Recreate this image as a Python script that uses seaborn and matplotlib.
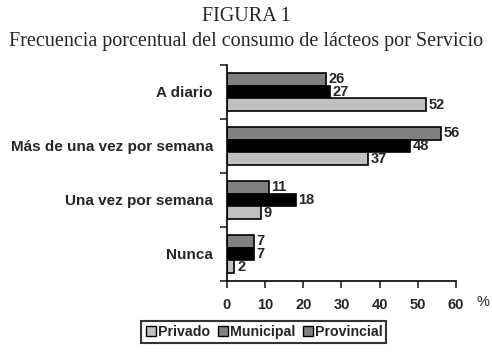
import seaborn as sns
import matplotlib.pyplot as plt
import pandas as pd
from matplotlib.lines import Line2D

categories = ['A diario', 'Más de una vez por semana', 'Una vez por semana', 'Nunca']
privado = [52, 37, 9, 2]
municipal = [27, 48, 18, 7]
provincial = [26, 56, 11, 7]
x_ticks = [0, 10, 20, 30, 40, 50, 60]

df = pd.DataFrame({
    'cat': categories * 3,
    'valor': provincial + municipal + privado,
    'serie': ['Provincial'] * 4 + ['Municipal'] * 4 + ['Privado'] * 4,
})

sns.set_style('white')
plt.rcParams['font.family'] = ['Liberation Sans', 'DejaVu Sans']

colors = {'Provincial': '#808080', 'Municipal': '#000000', 'Privado': '#c0c0c0'}

fig = plt.figure(figsize=(4.92, 3.57), dpi=100)
ax = fig.add_axes([0.461, 0.213, 0.466, 0.605])

sns.barplot(data=df, y='cat', x='valor', hue='serie', order=categories,
            hue_order=['Provincial', 'Municipal', 'Privado'], palette=colors,
            orient='h', width=0.7, edgecolor='black', linewidth=1.2,
            legend=False, ax=ax)

for cont in ax.containers:
    ax.bar_label(cont, padding=2, fontsize=10.5, fontweight='bold')

ax.set_xlim(0, 60)
ax.set_ylim(3.5, -0.5)
ax.set_xticks(x_ticks)
ax.set_xticklabels([str(t) for t in x_ticks], fontsize=10.5, fontweight='bold')
ax.set_yticks(range(len(categories)))
ax.set_yticklabels(categories, fontsize=11, fontweight='bold')
ax.set_yticks([-0.5, 0.5, 1.5, 2.5, 3.5], minor=True)
ax.tick_params(axis='y', which='major', length=0, pad=10)
ax.tick_params(axis='y', which='minor', length=5, width=1.2, direction='out', left=True)
ax.tick_params(axis='x', length=5, width=1.2, direction='out', bottom=True, pad=7)
ax.set_xlabel('')
ax.set_ylabel('')
for s in ['top', 'right']:
    ax.spines[s].set_visible(False)
for s in ['left', 'bottom']:
    ax.spines[s].set_color('black')
    ax.spines[s].set_linewidth(1.2)

fig.text(0.982, 0.155, '%', fontsize=10.5, ha='center', va='center')

fig.text(0.5, 0.955, 'FIGURA 1', family='Liberation Serif', fontsize=14.5,
         ha='center', va='center')
fig.text(0.5, 0.885, 'Frecuencia porcentual del consumo de lácteos por Servicio',
         family='Liberation Serif', fontsize=14.5, ha='center', va='center')

handles = [Line2D([], [], marker='s', linestyle='', markersize=7,
                  markerfacecolor=c, markeredgecolor='black', markeredgewidth=1)
           for c in ['#c0c0c0', '#808080', '#808080']]
leg = fig.legend(handles, ['Privado', 'Municipal', 'Provincial'], loc='center',
                 bbox_to_anchor=(0.536, 0.07), ncol=3, frameon=True, fancybox=False,
                 prop={'weight': 'bold', 'size': 10.2}, handletextpad=0.1,
                 columnspacing=0.45, handlelength=0.85, borderpad=0.25)
leg.get_frame().set_edgecolor('black')
leg.get_frame().set_linewidth(1.5)

fig.savefig('out.png', dpi=100)
